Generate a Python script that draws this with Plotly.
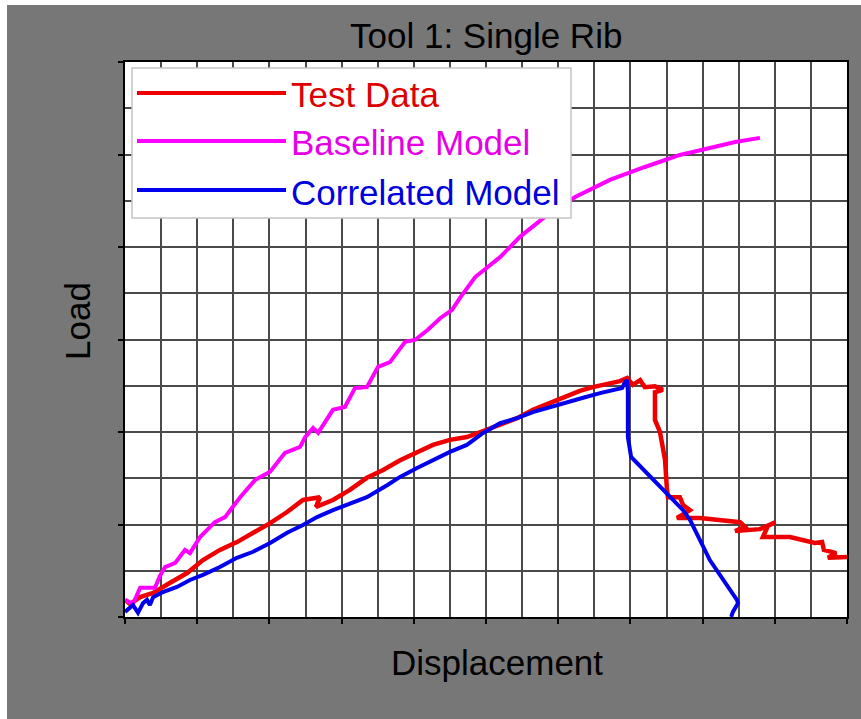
import plotly.graph_objects as go

# ---------------- data (grid units) ----------------
baseline_x = [0.00, 0.22, 0.42, 0.83, 0.97, 1.11, 1.39, 1.66, 1.80, 2.08, 2.49, 2.77, 3.19, 3.60,
              4.02, 4.43, 4.85, 4.99, 5.21, 5.35, 5.76, 6.09, 6.37, 6.70, 7.01, 7.34, 7.76, 8.03,
              8.39, 8.73, 9.06, 9.28, 9.70, 10.39, 10.94, 11.63, 12.47, 13.43, 14.40, 15.37,
              16.20, 16.90, 17.59]
baseline_y = [0.37, 0.28, 0.63, 0.63, 0.89, 1.08, 1.17, 1.45, 1.38, 1.73, 2.05, 2.16, 2.59, 2.96,
              3.14, 3.55, 3.68, 3.89, 4.09, 3.98, 4.48, 4.54, 4.95, 4.97, 5.41, 5.51, 5.95, 5.99,
              6.21, 6.46, 6.64, 6.90, 7.35, 7.78, 8.22, 8.65, 9.08, 9.45, 9.73, 9.99,
              10.14, 10.27, 10.36]

test_x = [0.00, 0.14, 0.42, 0.78, 1.25, 1.72, 2.16, 2.63, 3.10, 3.55, 4.02, 4.49, 4.93, 5.40,
          5.29, 5.76, 6.23, 6.70, 7.15, 7.62, 8.09, 8.53, 9.00, 9.47, 9.92, 10.39, 10.86, 11.30,
          11.77, 12.24, 12.60, 12.96, 13.43, 13.71, 13.91, 14.07, 14.27, 14.40, 14.68, 14.90,
          14.68, 14.68, 14.82, 14.96, 15.01, 15.04, 15.37, 15.46, 15.65, 15.29, 15.93, 16.48,
          17.04, 17.17, 16.90, 17.59, 18.01, 17.81, 17.67, 18.42, 19.11, 19.31, 19.36, 19.70,
          19.47, 19.81, 20.00]
test_y = [0.37, 0.28, 0.43, 0.52, 0.74, 0.95, 1.23, 1.45, 1.62, 1.82, 2.03, 2.27, 2.53, 2.59,
          2.38, 2.53, 2.75, 3.01, 3.18, 3.39, 3.57, 3.72, 3.83, 3.89, 4.02, 4.15, 4.30, 4.48,
          4.63, 4.76, 4.89, 4.97, 5.06, 5.10, 5.17, 5.02, 5.12, 4.97, 4.99, 4.91,
          4.86, 4.26, 4.00, 3.39, 2.79, 2.59, 2.59, 2.42, 2.31, 2.14, 2.14, 2.10,
          2.05, 1.95, 1.86, 1.90, 2.05, 1.97, 1.73, 1.73, 1.60, 1.62, 1.45, 1.38,
          1.28, 1.30, 1.30]

corr_x = [0.00, 0.06, 0.22, 0.36, 0.50, 0.61, 0.69, 0.78, 1.05, 1.44, 1.80, 2.16, 2.63, 3.10,
          3.55, 4.02, 4.49, 4.93, 5.32, 5.76, 6.23, 6.70, 7.26, 7.62, 8.09, 8.53, 9.00, 9.47,
          9.92, 10.39, 10.86, 11.30, 11.77, 12.24, 12.69, 13.16, 13.63, 13.77, 13.85, 13.91,
          13.93, 13.93, 14.02, 15.46, 15.65, 16.01, 16.20, 16.95, 16.98, 16.84, 16.79]
corr_y = [0.11, 0.15, 0.26, 0.09, 0.30, 0.37, 0.26, 0.43, 0.54, 0.65, 0.80, 0.91, 1.08, 1.28,
          1.41, 1.60, 1.82, 1.99, 2.16, 2.31, 2.46, 2.59, 2.85, 3.03, 3.22, 3.39, 3.57, 3.72,
          3.98, 4.19, 4.30, 4.43, 4.54, 4.63, 4.74, 4.84, 4.91, 4.95, 5.08, 5.12,
          4.86, 3.89, 3.46, 2.31, 2.10, 1.51, 1.23, 0.37, 0.30, 0.11, 0.00]

series_names = ["Test Data", "Baseline Model", "Correlated Model"]
line_colors = ["#ee0000", "#ff00ff", "#0000ee"]
text_colors = ["#dd0000", "#e600e6", "#0000dd"]

title_text = "Tool 1: Single Rib"
x_label = "Displacement"
y_label = "Load"

# ---------------- figure ----------------
W, H = 861, 719
L, R, T, B = 125, 14, 62, 102
pw, ph = W - L - R, H - T - B


def px_x(p):
    return (p - L) / pw


def px_y(p):
    return (H - B - p) / ph


FONT = "Liberation Sans, Arial, sans-serif"

fig = go.Figure()
fig.add_trace(go.Scatter(x=test_x, y=test_y, mode="lines", name=series_names[0],
                         line=dict(color=line_colors[0], width=4.5)))
fig.add_trace(go.Scatter(x=baseline_x, y=baseline_y, mode="lines", name=series_names[1],
                         line=dict(color=line_colors[1], width=4)))
fig.add_trace(go.Scatter(x=corr_x, y=corr_y, mode="lines", name=series_names[2],
                         line=dict(color=line_colors[2], width=4)))

grid_col = "#4a4a4a"
axis_common = dict(showline=True, linecolor="black", linewidth=2, mirror=True,
                   showticklabels=False, ticks="outside", ticklen=5, tickcolor="black",
                   tickwidth=1.5, zeroline=False, showgrid=True, gridcolor=grid_col,
                   gridwidth=1.5, tickmode="linear", tick0=0, dtick=2,
                   minor=dict(dtick=1, showgrid=True, gridcolor=grid_col, gridwidth=1.5,
                              ticks=""))

fig.update_layout(
    width=W, height=H,
    margin=dict(l=L, r=R, t=T, b=B, pad=0),
    paper_bgcolor="#777777", plot_bgcolor="white",
    showlegend=False,
    xaxis=dict(range=[0, 20], **axis_common),
    yaxis=dict(range=[0, 12], **axis_common),
    font=dict(family=FONT, color="black"),
)

shapes = [
    # white strips at top and left edges
    dict(type="rect", xref="paper", yref="paper", x0=px_x(0), x1=px_x(W), y0=px_y(5), y1=px_y(0),
         fillcolor="white", line=dict(width=0), layer="below"),
    dict(type="rect", xref="paper", yref="paper", x0=px_x(0), x1=px_x(7), y0=px_y(H), y1=px_y(0),
         fillcolor="white", line=dict(width=0), layer="below"),
    # legend box
    dict(type="rect", xref="paper", yref="paper", x0=px_x(132), x1=px_x(571), y0=px_y(218),
         y1=px_y(68), fillcolor="white", line=dict(color="#c4c4c4", width=1.5), layer="above"),
]
annotations = [
    dict(text=title_text, xref="paper", yref="paper", x=px_x(486), y=px_y(35),
         xanchor="center", yanchor="middle", showarrow=False,
         font=dict(size=35, color="black", family=FONT)),
    dict(text=x_label, xref="paper", yref="paper", x=px_x(497), y=px_y(662),
         xanchor="center", yanchor="middle", showarrow=False,
         font=dict(size=35, color="black", family=FONT)),
    dict(text=y_label, xref="paper", yref="paper", x=px_x(77), y=px_y(321),
         xanchor="center", yanchor="middle", showarrow=False, textangle=-90,
         font=dict(size=35, color="black", family=FONT)),
]
rows = [93, 141, 190]
for name, lc, tc, ry in zip(series_names, line_colors, text_colors, rows):
    shapes.append(dict(type="line", xref="paper", yref="paper", x0=px_x(137), x1=px_x(286),
                       y0=px_y(ry), y1=px_y(ry), line=dict(color=lc, width=4), layer="above"))
    annotations.append(dict(text=name, xref="paper", yref="paper", x=px_x(289), y=px_y(ry + 2),
                            xanchor="left", yanchor="middle", showarrow=False,
                            font=dict(size=35, color=tc, family=FONT)))

fig.update_layout(shapes=shapes, annotations=annotations)
fig.write_html("out.html")
